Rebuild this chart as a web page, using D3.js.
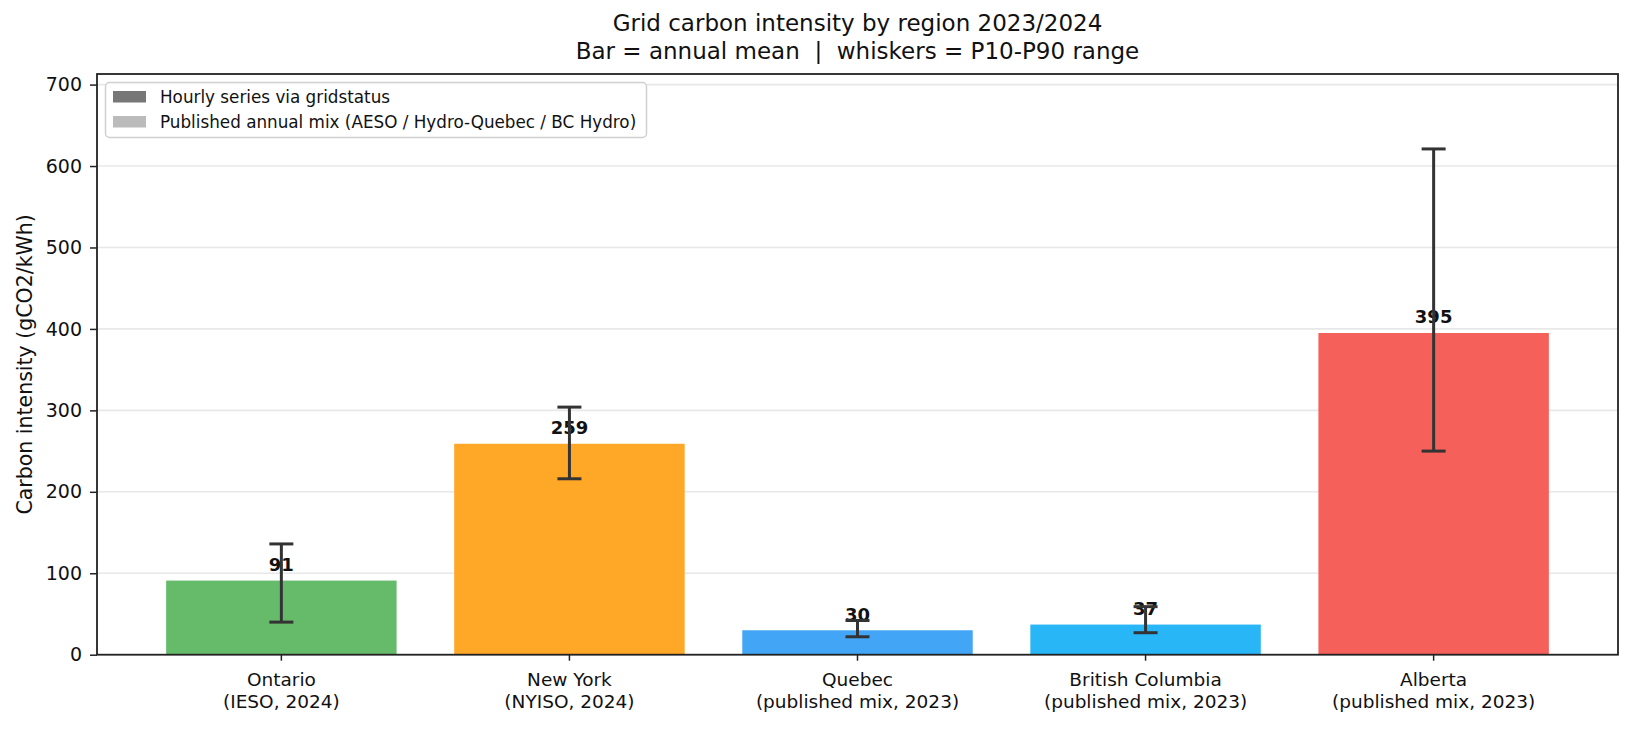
<!DOCTYPE html>
<html>
<head>
<meta charset="utf-8">
<script src="https://cdn.jsdelivr.net/npm/d3@7"></script>
<style>
  html, body { margin: 0; padding: 0; background: #fff; }
  svg { display: block; font-family: "DejaVu Sans", sans-serif; }
</style>
</head>
<body>
<svg id="chart"></svg>
<script>
const width = 1633;
const height = 730;

// données
const regions = ["Ontario", "New York", "Quebec", "British Columbia", "Alberta"];
const sources = ["(IESO, 2024)", "(NYISO, 2024)", "(published mix, 2023)", "(published mix, 2023)", "(published mix, 2023)"];
const means = [91, 259, 30, 37, 395];
const p10 = [40, 216, 22, 27, 250];
const p90 = [136, 304, 42, 59, 621];
const colors = ["#66bb6a", "#ffa726", "#42a5f5", "#29b6f6", "#f6605a"];
const yTicks = [0, 100, 200, 300, 400, 500, 600, 700];
const legendItems = ["Hourly series via gridstatus", "Published annual mix (AESO / Hydro-Quebec / BC Hydro)"];
const legendColors = ["#777777", "#bbbbbb"];

const margin = { top: 74, right: 15, bottom: 75.3, left: 97 };

const svg = d3.select("#chart")
    .attr("width", width)
    .attr("height", height);

const x = d3.scaleBand()
    .domain(regions)
    .range([margin.left, width - margin.right])
    .paddingInner(0.2)
    .paddingOuter(0.24);

const y = d3.scaleLinear()
    .domain([0, 713])
    .range([height - margin.bottom, margin.top]);

const data = regions.map((r, i) => ({ region: r, source: sources[i], mean: means[i], lo: p10[i], hi: p90[i], color: colors[i] }));

// grille horizontale
svg.append("g")
    .selectAll("line")
    .data(yTicks)
    .enter()
    .append("line")
    .attr("x1", margin.left)
    .attr("x2", width - margin.right)
    .attr("y1", d => y(d))
    .attr("y2", d => y(d))
    .attr("stroke", "#e8e8e8")
    .attr("stroke-width", 1.6);

// barres
svg.append("g")
    .selectAll("rect")
    .data(data)
    .enter()
    .append("rect")
    .attr("x", d => x(d.region))
    .attr("width", x.bandwidth())
    .attr("y", d => y(d.mean))
    .attr("height", d => y(0) - y(d.mean))
    .attr("fill", d => d.color);

// étiquettes des valeurs
svg.append("g")
    .selectAll("text")
    .data(data)
    .enter()
    .append("text")
    .attr("x", d => x(d.region) + x.bandwidth() / 2)
    .attr("y", d => y(d.mean) - 9.5)
    .attr("text-anchor", "middle")
    .style("font-size", "18px")
    .style("font-weight", "bold")
    .attr("fill", "#111")
    .text(d => d.mean);

// moustaches P10-P90
const whiskers = svg.append("g")
    .attr("stroke", "#333")
    .attr("stroke-width", 3);

data.forEach(d => {
    const cx = x(d.region) + x.bandwidth() / 2;
    whiskers.append("line").attr("x1", cx).attr("x2", cx).attr("y1", y(d.lo)).attr("y2", y(d.hi));
    whiskers.append("line").attr("x1", cx - 12).attr("x2", cx + 12).attr("y1", y(d.lo)).attr("y2", y(d.lo));
    whiskers.append("line").attr("x1", cx - 12).attr("x2", cx + 12).attr("y1", y(d.hi)).attr("y2", y(d.hi));
});

// axe Y
const yAxis = svg.append("g")
    .attr("transform", `translate(${margin.left},0)`)
    .call(d3.axisLeft(y).tickValues(yTicks).tickSize(7).tickPadding(8).tickSizeOuter(0));
yAxis.select(".domain").remove();
yAxis.selectAll("line").attr("stroke", "#222").attr("stroke-width", 1.5);
yAxis.selectAll("text").style("font-size", "19px").attr("fill", "#111").attr("font-family", "DejaVu Sans");

// axe X
const xAxis = svg.append("g")
    .attr("transform", `translate(0,${y(0)})`)
    .call(d3.axisBottom(x).tickSize(6).tickSizeOuter(0));
xAxis.select(".domain").remove();
xAxis.selectAll("line").attr("stroke", "#222").attr("stroke-width", 1.5);
xAxis.selectAll("text").remove();

xAxis.selectAll(".tick")
    .each(function (d, i) {
        const t = d3.select(this).append("text")
            .attr("text-anchor", "middle")
            .attr("fill", "#111")
            .attr("font-family", "DejaVu Sans")
            .style("font-size", "18.5px");
        t.append("tspan").attr("x", 0).attr("y", 31).text(regions[i]);
        t.append("tspan").attr("x", 0).attr("y", 53).text(sources[i]);
    });

// cadre
svg.append("rect")
    .attr("x", margin.left)
    .attr("y", margin.top)
    .attr("width", width - margin.left - margin.right)
    .attr("height", height - margin.top - margin.bottom)
    .attr("fill", "none")
    .attr("stroke", "#222")
    .attr("stroke-width", 1.8);

// titre
svg.append("text")
    .attr("x", (margin.left + width - margin.right) / 2)
    .attr("y", 31)
    .attr("text-anchor", "middle")
    .style("font-size", "23px")
    .attr("fill", "#111")
    .text("Grid carbon intensity by region 2023/2024");
svg.append("text")
    .attr("x", (margin.left + width - margin.right) / 2)
    .attr("y", 59)
    .attr("text-anchor", "middle")
    .style("font-size", "23px")
    .attr("fill", "#111")
    .text("Bar = annual mean  |  whiskers = P10-P90 range")
    .attr("xml:space", "preserve")
    .style("white-space", "pre");

// titre axe Y
svg.append("text")
    .attr("transform", `translate(32,${(margin.top + height - margin.bottom) / 2}) rotate(-90)`)
    .attr("text-anchor", "middle")
    .style("font-size", "20.5px")
    .attr("fill", "#111")
    .text("Carbon intensity (gCO2/kWh)");

// légende
const legend = svg.append("g");
legend.append("rect")
    .attr("x", 105.5)
    .attr("y", 82.5)
    .attr("width", 541)
    .attr("height", 55)
    .attr("rx", 4)
    .attr("fill", "#fff")
    .attr("fill-opacity", 0.85)
    .attr("stroke", "#d0d0d0")
    .attr("stroke-width", 1.5);

legend.selectAll(".item")
    .data(legendItems)
    .enter()
    .append("g")
    .attr("class", "item")
    .attr("transform", (d, i) => `translate(113,${91 + i * 25})`)
    .each(function (d, i) {
        const g = d3.select(this);
        g.append("rect").attr("width", 33).attr("height", 11.5).attr("fill", legendColors[i]);
        g.append("text")
            .attr("x", 47)
            .attr("y", 12)
            .style("font-size", "16.8px")
            .attr("fill", "#111")
            .text(d);
    });
</script>
</body>
</html>
